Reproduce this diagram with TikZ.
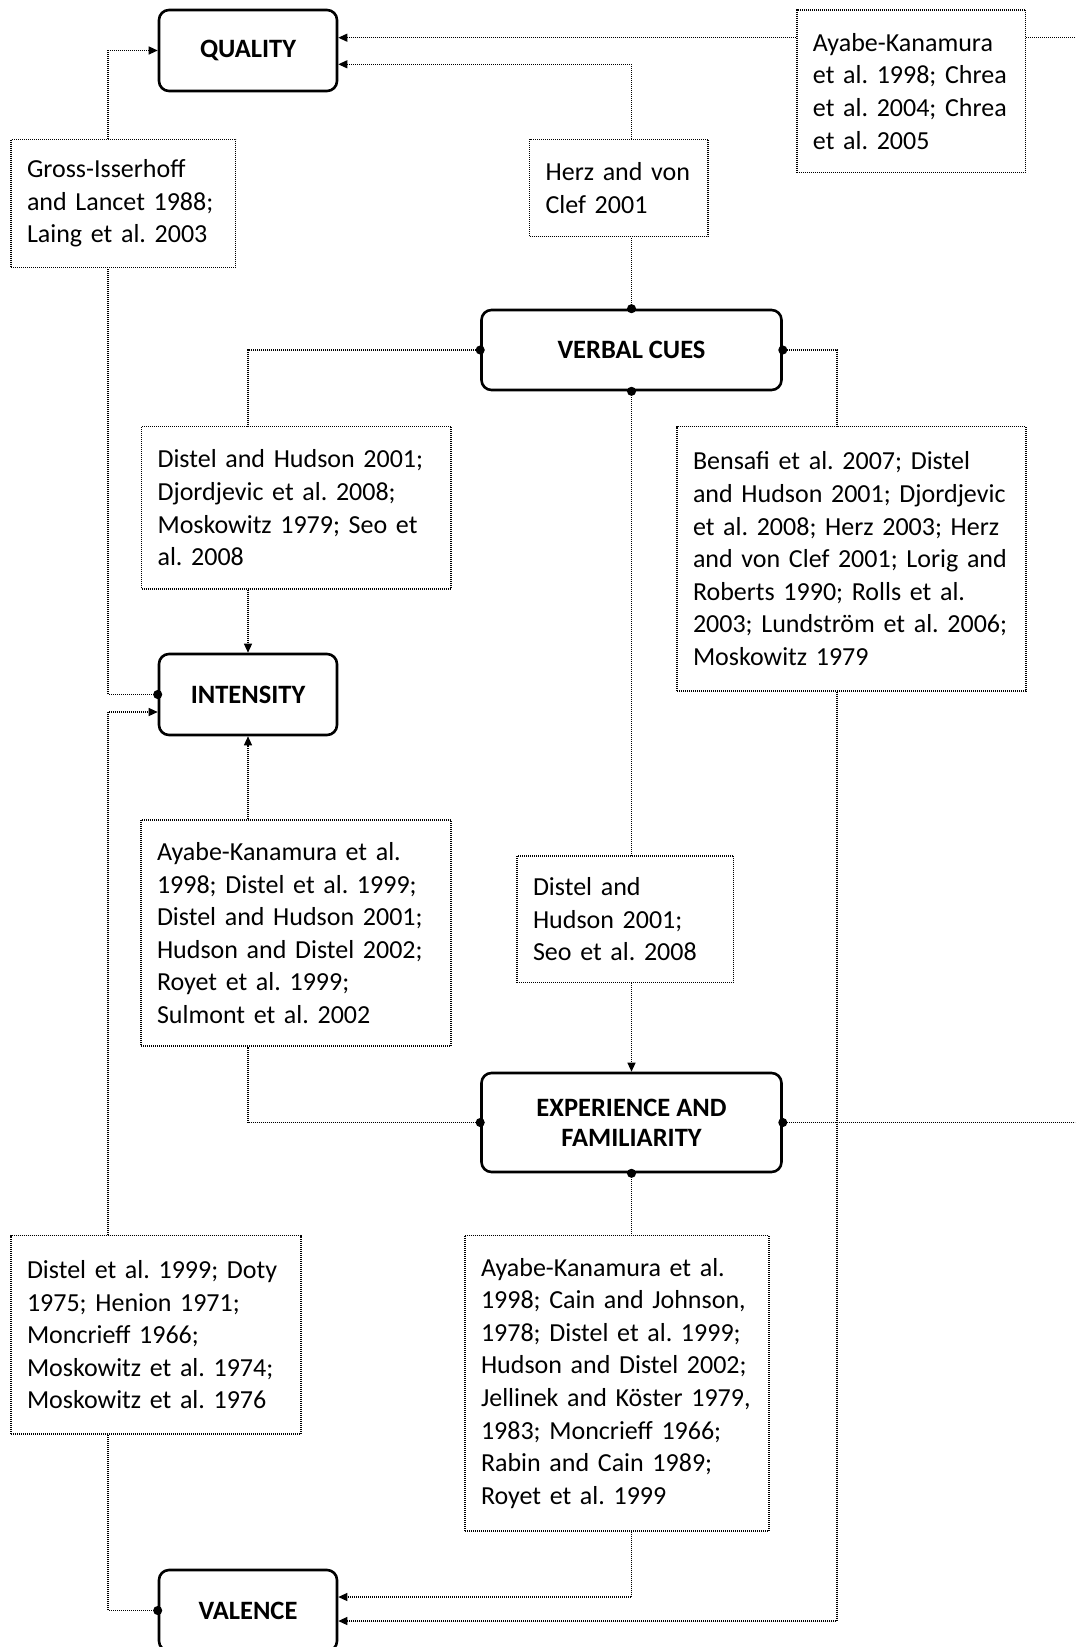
\documentclass[tikz,border=0pt]{standalone}
\usepackage{fontspec}
\setmainfont{Carlito}
\usetikzlibrary{arrows.meta}

\begin{document}
\begin{tikzpicture}[x=0.5pt, y=-0.5pt, font=\fontsize{13}{16.3}\selectfont,
	factor/.style={draw, line width=1.3pt, rounded corners=5pt, align=center, font=\fontsize{13.25}{16.3}\selectfont\bfseries, minimum width=89pt, minimum height=40.5pt},
	ref/.style={draw, dash pattern=on 0.5pt off 0.5pt, line width=0.6pt, align=left, inner xsep=8pt,
		execute at begin node={\frenchspacing\hyphenpenalty=10000\rightskip=0pt plus 1fil minus 40pt}},
	link/.style={draw, dash pattern=on 0.5pt off 0.5pt, line width=0.6pt},
	dotstart/.style={{Circle[length=4.5pt]}-, shorten <=-2.25pt},
	>={Triangle[length=4.5pt,width=4pt]}]
	\path[use as bounding box, fill=white] (0,0) rectangle (1075,1647);
	\clip (0,0) rectangle (1075,1647);
	\coordinate (colA) at (108,0);
	\coordinate (colB) at (837,0);
	\coordinate (edge) at (1075,0);
	\node[factor] (quality) at (248,50.5) {QUALITY};
	\node[factor] (intensity) at (248,694.5) {INTENSITY};
	\node[factor] (valence) at (248,1610.5) {VALENCE};
	\node[factor, minimum width=150pt, minimum height=40pt] (verbal) at (631.5,350) {VERBAL CUES};
	\node[factor, minimum width=150pt, minimum height=49.5pt, font=\fontsize{13.25}{15}\selectfont\bfseries] (experience) at (631.5,1122.5) {EXPERIENCE AND\\FAMILIARITY};
	\node[ref, text width=96.3pt, minimum height=64.2pt] (gross) at (123.3,203.5) {Gross-Isserhoff\\and Lancet 1988;\\Laing et al. 2003};
	\node[ref, text width=73.2pt, minimum height=48.7pt] (herz) at (618.8,188) {Herz and von\\Clef 2001};
	\node[ref, text width=98.35pt, minimum height=81.35pt] (ayabeq) at (911.3,91.3) {Ayabe-Kanamura\\et al. 1998; Chrea\\et al. 2004; Chrea\\et al. 2005};
	\node[ref, text width=138.75pt, minimum height=81.15pt] (distelint) at (296.3,507.8) {Distel and Hudson 2001;\\Djordjevic et al. 2008;\\Moskowitz 1979; Seo et\\al. 2008};
	\node[ref, text width=158.5pt, minimum height=132.15pt] (bensafi) at (851.5,558.8) {Bensafi et al. 2007; Distel\\and Hudson 2001; Djordjevic\\et al. 2008; Herz 2003; Herz\\and von Clef 2001; Lorig and\\Roberts 1990; Rolls et al.\\2003; Lundström et al. 2006;\\Moskowitz 1979};
	\node[ref, text width=139pt, minimum height=113pt] (ayabeint) at (296,933) {Ayabe-Kanamura et al.\\1998; Distel et al. 1999;\\Distel and Hudson 2001;\\Hudson and Distel 2002;\\Royet et al. 1999;\\Sulmont et al. 2002};
	\node[ref, text width=92.3pt, minimum height=63.35pt] (distelexp) at (625.3,919.3) {Distel and\\Hudson 2001;\\Seo et al. 2008};
	\node[ref, text width=129pt, minimum height=99.15pt] (distelval) at (156,1334.8) {Distel et al. 1999; Doty\\1975; Henion 1971;\\Moncrieff 1966;\\Moskowitz et al. 1974;\\Moskowitz et al. 1976};
	\node[ref, text width=136pt, minimum height=147.65pt] (ayabeval) at (617,1383.3) {Ayabe-Kanamura et al.\\1998; Cain and Johnson,\\1978; Distel et al. 1999;\\Hudson and Distel 2002;\\Jellinek and Köster 1979,\\1983; Moncrieff 1966;\\Rabin and Cain 1989;\\Royet et al. 1999};
	\coordinate (q1) at ([yshift=6.4pt]quality.east);
	\coordinate (q2) at ([yshift=-6.9pt]quality.east);
	\coordinate (i2) at ([yshift=-8.75pt]intensity.west);
	\coordinate (v1) at ([yshift=6.75pt]valence.east);
	\coordinate (v2) at ([yshift=-5.25pt]valence.east);
	\draw[link,->] (gross.north -| colA) |- (quality.west);
	\draw[link,dotstart] (intensity.west) -| (gross.south -| colA);
	\draw[link,->] (ayabeq.west |- q1) -- (q1);
	\draw[link] (ayabeq.east |- q1) -- (q1 -| edge);
	\draw[link,dotstart] (experience.east) -- (experience.east -| edge);
	\draw[link,dotstart] (verbal.north) -- (herz.south -| verbal.north);
	\draw[link,->] (herz.north -| verbal.north) |- (q2);
	\draw[link,dotstart] (verbal.west) -| (distelint.north -| intensity.north);
	\draw[link,->] (distelint.south -| intensity.north) -- (intensity.north);
	\draw[link,dotstart] (verbal.east) -| (bensafi.north -| colB);
	\draw[link,->] (bensafi.south -| colB) |- (v2);
	\draw[link,dotstart] (verbal.south) -- (distelexp.north -| verbal.south);
	\draw[link,->] (distelexp.south -| verbal.south) -- (experience.north);
	\draw[link,dotstart] (experience.west) -| (ayabeint.south -| intensity.south);
	\draw[link,->] (ayabeint.north -| intensity.south) -- (intensity.south);
	\draw[link,dotstart] (valence.west) -| (distelval.south -| colA);
	\draw[link,->] (distelval.north -| colA) |- (i2);
	\draw[link,dotstart] (experience.south) -- (ayabeval.north -| experience.south);
	\draw[link,->] (ayabeval.south -| experience.south) |- (v1);
\end{tikzpicture}
\end{document}
